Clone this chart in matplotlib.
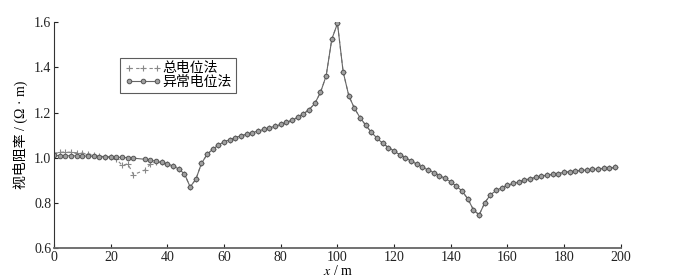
import numpy as np
import matplotlib
matplotlib.use("Agg")
import matplotlib.pyplot as plt

plt.rcParams['font.family'] = ['Liberation Serif', 'Noto Sans CJK SC', 'DejaVu Sans']
plt.rcParams['mathtext.fontset'] = 'stix'
plt.rcParams['axes.unicode_minus'] = False

# measuring points (m), no point at 30 m
x_pos = [0, 2, 4, 6, 8, 10, 12, 14, 16, 18, 20, 22, 24, 26, 28,
         32, 34, 36, 38, 40, 42, 44, 46, 48, 50, 52, 54, 56, 58, 60,
         62, 64, 66, 68, 70, 72, 74, 76, 78, 80, 82, 84, 86, 88, 90,
         92, 94, 96, 98, 100, 102, 104, 106, 108, 110, 112, 114, 116, 118, 120,
         122, 124, 126, 128, 130, 132, 134, 136, 138, 140, 142, 144, 146, 148, 150,
         152, 154, 156, 158, 160, 162, 164, 166, 168, 170, 172, 174, 176, 178, 180,
         182, 184, 186, 188, 190, 192, 194, 196, 198]

# 异常电位法 (anomalous potential)
rho_anomaly = [1.010, 1.009, 1.009, 1.008, 1.008, 1.007, 1.007, 1.006, 1.005, 1.004, 1.003, 1.002, 1.001, 1.000, 0.998,
               0.993, 0.989, 0.984, 0.979, 0.972, 0.963, 0.950, 0.928, 0.871, 0.904, 0.975, 1.015, 1.038, 1.056, 1.070,
               1.080, 1.089, 1.097, 1.104, 1.111, 1.118, 1.125, 1.132, 1.139, 1.147, 1.156, 1.166, 1.178, 1.194, 1.213,
               1.240, 1.289, 1.362, 1.525, 1.594, 1.380, 1.274, 1.218, 1.177, 1.143, 1.112, 1.086, 1.063, 1.045, 1.029,
               1.013, 0.999, 0.985, 0.972, 0.958, 0.945, 0.934, 0.921, 0.908, 0.893, 0.874, 0.852, 0.818, 0.769, 0.747,
               0.801, 0.836, 0.855, 0.867, 0.877, 0.886, 0.893, 0.901, 0.907, 0.913, 0.919, 0.923, 0.927, 0.930, 0.935,
               0.938, 0.941, 0.944, 0.945, 0.948, 0.951, 0.953, 0.954, 0.957]

# 总电位法 (total potential)
rho_total = [1.020, 1.024, 1.025, 1.024, 1.022, 1.020, 1.018, 1.012, 1.007, 1.004, 1.003, 0.993, 0.966, 0.973, 0.925,
             0.945, 0.972, 0.982, 0.979, 0.972, 0.963, 0.950, 0.928, 0.871, 0.904, 0.975, 1.015, 1.038, 1.056, 1.070,
             1.080, 1.089, 1.097, 1.104, 1.111, 1.118, 1.125, 1.132, 1.139, 1.147, 1.156, 1.166, 1.178, 1.194, 1.213,
             1.240, 1.289, 1.362, 1.525, 1.594, 1.380, 1.274, 1.218, 1.177, 1.143, 1.112, 1.086, 1.063, 1.045, 1.029,
             1.013, 0.999, 0.985, 0.972, 0.958, 0.945, 0.934, 0.921, 0.908, 0.893, 0.874, 0.852, 0.818, 0.769, 0.747,
             0.801, 0.836, 0.855, 0.867, 0.877, 0.886, 0.893, 0.901, 0.907, 0.913, 0.919, 0.923, 0.927, 0.930, 0.935,
             0.938, 0.941, 0.944, 0.945, 0.948, 0.951, 0.953, 0.954, 0.957]

x_ticks = [0, 20, 40, 60, 80, 100, 120, 140, 160, 180, 200]
y_ticks = [0.6, 0.8, 1.0, 1.2, 1.4, 1.6]

fig = plt.figure(figsize=(6.77, 2.8), dpi=100)
ax = fig.add_axes([0.080, 0.114, 0.837, 0.807])

ax.plot(x_pos, rho_total, color='#888888', linestyle=(0, (3, 3)), linewidth=0.8,
        marker='+', markersize=4.5, markeredgewidth=0.8, label='总电位法')
ax.plot(x_pos, rho_anomaly, color='#666666', linestyle='-', linewidth=0.8,
        marker='o', markersize=3.3, markerfacecolor='#a0a0a0', markeredgecolor='#555555',
        markeredgewidth=0.7, label='异常电位法')

ax.set_xlim(0, 200)
ax.set_ylim(0.6, 1.6)
ax.set_xticks(x_ticks)
ax.set_yticks(y_ticks)
ax.set_yticklabels(['%.1f' % v for v in y_ticks])
ax.tick_params(direction='in', length=3, width=0.8, labelsize=10, colors='#222222', pad=2)

for side in ['top', 'right']:
    ax.spines[side].set_visible(False)
ax.spines['left'].set_color('#333333')
ax.spines['bottom'].set_color('#666666')
ax.spines['bottom'].set_linewidth(1.3)

ax.set_xlabel(r'$x$ / m', fontsize=10, labelpad=0)
ax.set_ylabel('视电阻率 / (Ω · m)', fontsize=10, labelpad=4)

leg = ax.legend(loc='upper left', bbox_to_anchor=(0.117, 0.84), numpoints=3, handlelength=2.6,
                handletextpad=0.1, borderpad=0.3, labelspacing=0.0, fontsize=10,
                fancybox=False, frameon=True, borderaxespad=0)
leg.get_frame().set_edgecolor('#333333')
leg.get_frame().set_linewidth(0.8)

fig.savefig('out.png', dpi=100)
